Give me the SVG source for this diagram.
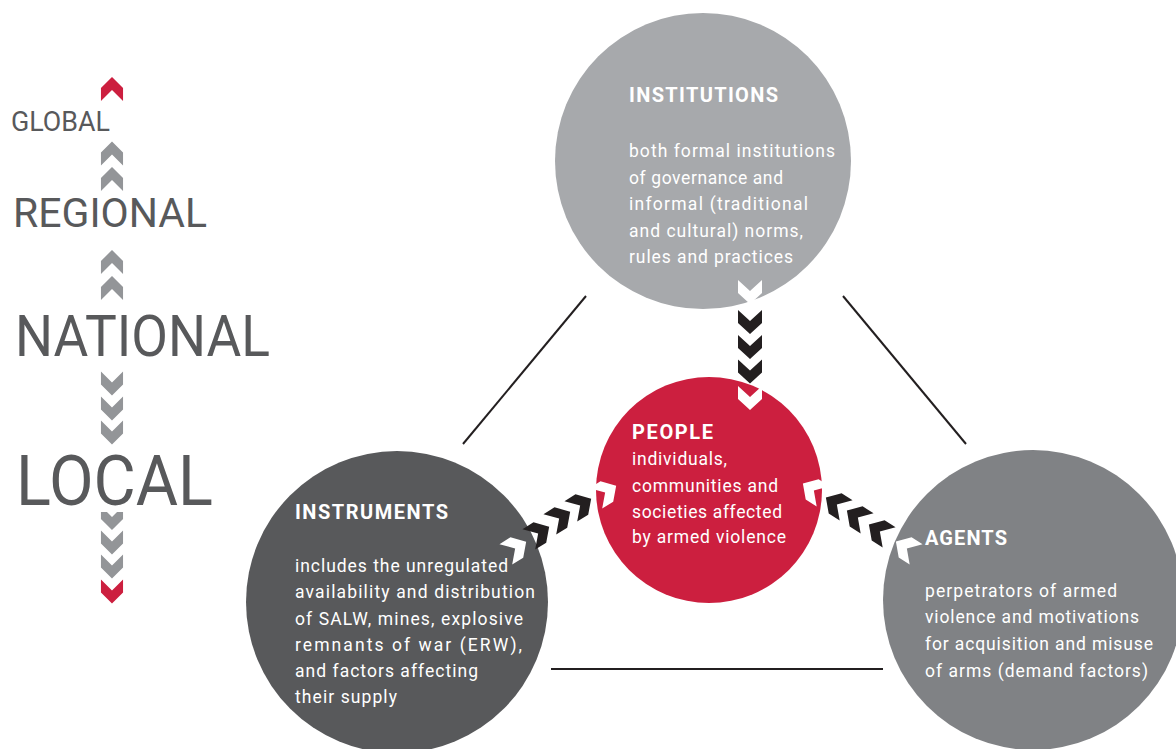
<svg xmlns="http://www.w3.org/2000/svg" width="1176" height="749" viewBox="0 0 1176 749">
<style>
.lbl{font-family:Roboto,"Liberation Sans",sans-serif;fill:#58595b;}
.hd{font-family:Roboto,"Liberation Sans",sans-serif;font-weight:bold;font-size:20px;fill:#ffffff;}
.bd{font-family:Roboto,"Liberation Sans",sans-serif;font-size:17.5px;fill:#ffffff;}
.ln{stroke:#231f20;stroke-width:2;fill:none;}
.cg{fill:#939598;}
.cr{fill:#cc1f3f;}
.ck{fill:#231f20;}
.cw{fill:#ffffff;}
</style>
<defs>
<path id="chev" d="M1,-12 L12,0 L1,12 L-12,12 L-1,0 L-12,-12 Z"/>
<clipPath id="clipLocal"><rect x="90" y="512" width="40" height="40"/></clipPath>
</defs>
<rect width="1176" height="749" fill="#ffffff"/>

<g id="scale">
<use href="#chev" class="cr" transform="translate(112,89) rotate(-90) scale(1,0.92)"/>
<text class="lbl" x="11" y="131" font-size="28" textLength="99" lengthAdjust="spacingAndGlyphs">GLOBAL</text>
<use href="#chev" class="cg" transform="translate(112,153.5) rotate(-90) scale(1,0.92)"/>
<use href="#chev" class="cg" transform="translate(112,179) rotate(-90) scale(1,0.92)"/>
<text class="lbl" x="13" y="227" font-size="40" textLength="194" lengthAdjust="spacingAndGlyphs">REGIONAL</text>
<use href="#chev" class="cg" transform="translate(112,262) rotate(-90) scale(1,0.92)"/>
<use href="#chev" class="cg" transform="translate(112,288) rotate(-90) scale(1,0.92)"/>
<text class="lbl" x="15" y="356" font-size="57" textLength="255" lengthAdjust="spacingAndGlyphs">NATIONAL</text>
<use href="#chev" class="cg" transform="translate(112,383.5) rotate(90) scale(1,0.92)"/>
<use href="#chev" class="cg" transform="translate(112,408.5) rotate(90) scale(1,0.92)"/>
<use href="#chev" class="cg" transform="translate(112,432.5) rotate(90) scale(1,0.92)"/>
<text class="lbl" x="16" y="505" font-size="70" textLength="197" lengthAdjust="spacingAndGlyphs">LOCAL</text>
<g clip-path="url(#clipLocal)"><use href="#chev" class="cg" transform="translate(112,518) rotate(90) scale(1,0.92)"/></g>
<use href="#chev" class="cg" transform="translate(112,542.5) rotate(90) scale(1,0.92)"/>
<use href="#chev" class="cg" transform="translate(112,566.5) rotate(90) scale(1,0.92)"/>
<use href="#chev" class="cr" transform="translate(112,591.5) rotate(90) scale(1,0.92)"/>
</g>

<g id="node-institutions">
<circle cx="703" cy="161" r="148" fill="#a7a9ac"/>
<text class="hd" x="629" y="102" textLength="149">INSTITUTIONS</text>
<text class="bd" x="629" y="157" textLength="206">both formal institutions</text>
<text class="bd" x="629" y="183.5" textLength="154">of governance and</text>
<text class="bd" x="629" y="210" textLength="179">informal (traditional</text>
<text class="bd" x="629" y="236.5" textLength="174">and cultural) norms,</text>
<text class="bd" x="629" y="263" textLength="164">rules and practices</text>
</g>

<g id="node-instruments">
<circle cx="397" cy="602" r="151" fill="#58595b"/>
<text class="hd" x="295" y="519" textLength="153">INSTRUMENTS</text>
<text class="bd" x="295" y="572" textLength="213">includes the unregulated</text>
<text class="bd" x="295" y="598" textLength="240">availability and distribution</text>
<text class="bd" x="295" y="624.5" textLength="228">of SALW, mines, explosive</text>
<text class="bd" x="295" y="650.5" textLength="227">remnants of war (ERW),</text>
<text class="bd" x="295" y="677" textLength="183">and factors affecting</text>
<text class="bd" x="295" y="703" textLength="102">their supply</text>
</g>

<g id="node-agents">
<circle cx="1033" cy="600" r="150" fill="#808285"/>
<text class="hd" x="925" y="545" textLength="82">AGENTS</text>
<text class="bd" x="925" y="597" textLength="192">perpetrators of armed</text>
<text class="bd" x="925" y="623" textLength="214">violence and motivations</text>
<text class="bd" x="925" y="650" textLength="228">for acquisition and misuse</text>
<text class="bd" x="925" y="676.5" textLength="223">of arms (demand factors)</text>
</g>

<g id="node-people">
<circle cx="709" cy="490" r="113" fill="#cc1f3f"/>
<text class="hd" x="632" y="439" textLength="81">PEOPLE</text>
<text class="bd" x="632" y="465" textLength="95">individuals,</text>
<text class="bd" x="632" y="491.5" textLength="146">communities and</text>
<text class="bd" x="632" y="518" textLength="150">societies affected</text>
<text class="bd" x="632" y="543" textLength="154">by armed violence</text>
</g>

<g id="connectors">
<line class="ln" x1="586" y1="296" x2="463" y2="444"/>
<line class="ln" x1="843" y1="296" x2="966" y2="444"/>
<line class="ln" x1="551" y1="669" x2="883" y2="669"/>
<g id="arrow-institutions-people">
<use href="#chev" class="cw" transform="translate(750,292) rotate(90)"/>
<use href="#chev" class="ck" transform="translate(750,322) rotate(90)"/>
<use href="#chev" class="ck" transform="translate(750,347) rotate(90)"/>
<use href="#chev" class="ck" transform="translate(750,371.5) rotate(90)"/>
<use href="#chev" class="cw" transform="translate(750,398) rotate(90)"/>
</g>
<g id="arrow-instruments-people">
<use href="#chev" class="cw" transform="translate(516,548) rotate(-32)"/>
<use href="#chev" class="ck" transform="translate(539,533) rotate(-32)"/>
<use href="#chev" class="ck" transform="translate(560,518) rotate(-32)"/>
<use href="#chev" class="ck" transform="translate(581,505) rotate(-32)"/>
<use href="#chev" class="cw" transform="translate(606,492) rotate(-32)"/>
</g>
<g id="arrow-agents-people">
<use href="#chev" class="cw" transform="translate(906,548) rotate(212.5)"/>
<use href="#chev" class="ck" transform="translate(879,531) rotate(212.5)"/>
<use href="#chev" class="ck" transform="translate(857,517) rotate(212.5)"/>
<use href="#chev" class="ck" transform="translate(836,504) rotate(212.5)"/>
<use href="#chev" class="cw" transform="translate(813,490) rotate(212.5)"/>
</g>
</g>
</svg>
